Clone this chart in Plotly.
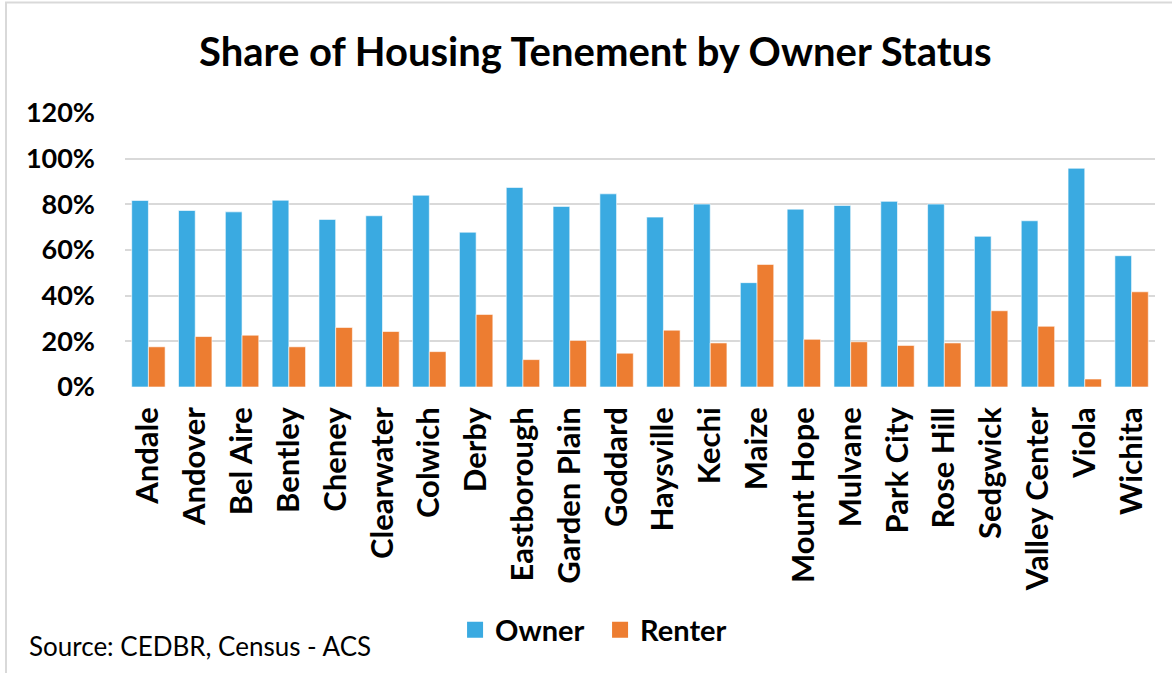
import plotly.graph_objects as go

cities = ['Andale', 'Andover', 'Bel Aire', 'Bentley', 'Cheney', 'Clearwater', 'Colwich',
          'Derby', 'Eastborough', 'Garden Plain', 'Goddard', 'Haysville', 'Kechi', 'Maize',
          'Mount Hope', 'Mulvane', 'Park City', 'Rose Hill', 'Sedgwick', 'Valley Center',
          'Viola', 'Wichita']
owner = [0.817, 0.773, 0.767, 0.818, 0.734, 0.750, 0.840, 0.678, 0.874, 0.791, 0.846,
         0.744, 0.801, 0.457, 0.779, 0.795, 0.813, 0.801, 0.660, 0.728, 0.958, 0.575]
renter = [0.176, 0.221, 0.227, 0.176, 0.261, 0.243, 0.155, 0.318, 0.120, 0.204, 0.148,
          0.249, 0.193, 0.537, 0.209, 0.198, 0.182, 0.193, 0.334, 0.266, 0.035, 0.417]
y_ticks = [0, 0.2, 0.4, 0.6, 0.8, 1.0, 1.2]

FONT = 'Lato'
BLUE = '#3AAAE1'
ORANGE = '#ED7D31'

fig = go.Figure()
fig.add_trace(go.Bar(x=cities, y=owner, name='Owner', showlegend=False,
                     marker=dict(color=BLUE, line=dict(color='rgba(255,255,255,0.6)', width=1))))
fig.add_trace(go.Bar(x=cities, y=renter, name='Renter', showlegend=False,
                     marker=dict(color=ORANGE, line=dict(color='rgba(255,255,255,0.6)', width=1))))
# legend entries with bigger square swatches
for name, col in [('Owner', BLUE), ('Renter', ORANGE)]:
    fig.add_trace(go.Scatter(x=[None], y=[None], name=name, mode='markers',
                             marker=dict(symbol='square', size=18, color=col)))

fig.update_layout(
    width=1172, height=673,
    margin=dict(l=125, r=17, t=113, b=286),
    paper_bgcolor='white', plot_bgcolor='white',
    font=dict(family=FONT, color='black'),
    barmode='group', bargap=0.286, bargroupgap=0,
    title=dict(text='<b>Share of Housing Tenement by Owner Status</b>',
               x=0.508, xanchor='center', y=0.923, yanchor='middle',
               font=dict(size=40, family=FONT, color='black')),
    legend=dict(orientation='h', xref='container', yref='container',
                x=0.512, xanchor='center', y=0.064, yanchor='middle',
                font=dict(size=29, family=FONT, color='black', weight='bold'),
                itemwidth=30, entrywidth=100, entrywidthmode='pixels',
                traceorder='normal'),
    showlegend=True,
)

fig.update_yaxes(range=[0, 1.2], tickvals=y_ticks, tickformat='.0%',
                 gridcolor='#D9D9D9', gridwidth=2, zeroline=False, showline=False,
                 ticklabelstandoff=29, automargin=False,
                 tickfont=dict(size=27, family=FONT, color='black', weight='bold'))
fig.update_xaxes(tickangle=-90, showgrid=False, showline=False, ticklabelstandoff=13,
                 automargin=False,
                 tickfont=dict(size=31, family=FONT, color='black', weight='bold'))

fig.add_annotation(text='Source: CEDBR, Census - ACS', xref='paper', yref='paper',
                   x=(27 - 125) / 1030, xanchor='left', y=-(645 - 387) / 273, yanchor='middle',
                   showarrow=False, font=dict(size=26, family=FONT, color='black'))

# frame around the chart
fig.add_shape(type='rect', xref='paper', yref='paper',
              x0=(6 - 125) / 1030, x1=(1190 - 125) / 1030,
              y0=-(690 - 387) / 273, y1=(387 - 4) / 273,
              line=dict(color='#D9D9D9', width=2), layer='below')

fig.write_html('out.html', config={'displayModeBar': False},
               post_script="document.body.style.margin='0';")
